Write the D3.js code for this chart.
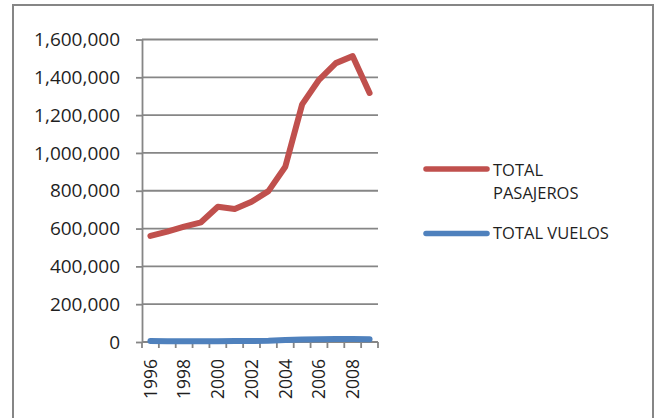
<!DOCTYPE html>
<html>
<head>
<meta charset="utf-8">
<script src="https://cdn.jsdelivr.net/npm/d3@7"></script>
<style>
  html, body { margin: 0; padding: 0; background: #fff; }
  svg { display: block; }
  text { font-family: "Open Sans", "Noto Sans", sans-serif; fill: #1f1f1f; }
</style>
</head>
<body>
<svg id="chart" width="656" height="418"></svg>
<script>
const years = [1996,1997,1998,1999,2000,2001,2002,2003,2004,2005,2006,2007,2008,2009];
const yearLabels = ["1996","1998","2000","2002","2004","2006","2008"];
const totalPasajeros = [561000,584000,610000,633000,715000,703000,742000,798000,927000,1257000,1387000,1475000,1512000,1317000];
const totalVuelos = [5000,4500,4000,4000,4500,5000,5500,6000,10000,13000,15000,16000,16000,15000];
const yTicks = [0,200000,400000,600000,800000,1000000,1200000,1400000,1600000];
const seriesNames = ["TOTAL PASAJEROS","TOTAL VUELOS"];
const seriesColors = ["#C0504D","#4F81BD"];

(function () {
const svg = d3.select("#chart");
const gridColor = "#868686";

// outer frame
svg.append("rect").attr("x",13).attr("y",5).attr("width",640).attr("height",430)
  .attr("fill","none").attr("stroke",gridColor).attr("stroke-width",2);

const pLeft = 142, pRight = 378, pTop = 39.5, pBottom = 342;
const x = d3.scalePoint().domain(years).range([pLeft, pRight]).padding(0.5);
const band = d3.scaleBand().domain(years).range([pLeft, pRight]);
const y = d3.scaleLinear().domain([0,1600000]).range([pBottom, pTop]);

// gridlines
svg.append("g").selectAll("line").data(yTicks.filter(d => d > 0)).join("line")
  .attr("x1", pLeft).attr("x2", pRight)
  .attr("y1", d => y(d)).attr("y2", d => y(d))
  .attr("stroke", gridColor).attr("stroke-width", 1.8);

// y axis
const yAxis = d3.axisLeft(y).tickValues(yTicks).tickSize(6).tickSizeOuter(0)
  .tickFormat(d3.format(","));
const gy = svg.append("g").attr("transform", `translate(${pLeft},0)`).call(yAxis);
gy.select(".domain").attr("stroke", gridColor).attr("stroke-width", 1.8);
gy.selectAll(".tick line").attr("stroke", gridColor).attr("stroke-width", 1.8);
gy.selectAll(".tick text").attr("x", -22).attr("font-size", 19)
  .style("font-family", '"Open Sans", sans-serif').attr("fill", "#1f1f1f");

// x axis
svg.append("line").attr("x1", pLeft).attr("x2", pRight).attr("y1", pBottom).attr("y2", pBottom)
  .attr("stroke", gridColor).attr("stroke-width", 1.8);
const bounds = years.map(d => band(d)).concat([band(years[years.length-1]) + band.bandwidth()]);
svg.append("g").selectAll("line").data(bounds).join("line")
  .attr("x1", d => d).attr("x2", d => d).attr("y1", pBottom).attr("y2", pBottom + 6)
  .attr("stroke", gridColor).attr("stroke-width", 1.8);
svg.append("g").selectAll("text").data(yearLabels).join("text")
  .attr("transform", d => `translate(${x(+d)},359) rotate(-90)`)
  .attr("text-anchor", "end").attr("dy", "0.36em").attr("font-size", 17.5)
  .text(d => d);

// lines
const line = d3.line().x((d, i) => x(years[i])).y(d => y(d));
[[totalVuelos, seriesColors[1]], [totalPasajeros, seriesColors[0]]].forEach(([s, c]) => {
  svg.append("path").datum(s).attr("d", line)
    .attr("fill", "none").attr("stroke", c).attr("stroke-width", 6)
    .attr("stroke-linejoin", "round").attr("stroke-linecap", "round");
});

// legend
const lg = svg.append("g");
lg.append("line").attr("x1", 426).attr("x2", 487).attr("y1", 169).attr("y2", 169)
  .attr("stroke", seriesColors[0]).attr("stroke-width", 5.5).attr("stroke-linecap", "round");
const t1 = lg.append("text").attr("x", 493).attr("y", 176).attr("font-size", 16.5);
t1.append("tspan").attr("x", 493).text("TOTAL");
t1.append("tspan").attr("x", 493).attr("dy", 22.7).text("PASAJEROS");
lg.append("line").attr("x1", 426).attr("x2", 487).attr("y1", 233.5).attr("y2", 233.5)
  .attr("stroke", seriesColors[1]).attr("stroke-width", 5.5).attr("stroke-linecap", "round");
lg.append("text").attr("x", 493).attr("y", 239.3).attr("font-size", 16.5).text(seriesNames[1]);
})();
</script>
</body>
</html>
